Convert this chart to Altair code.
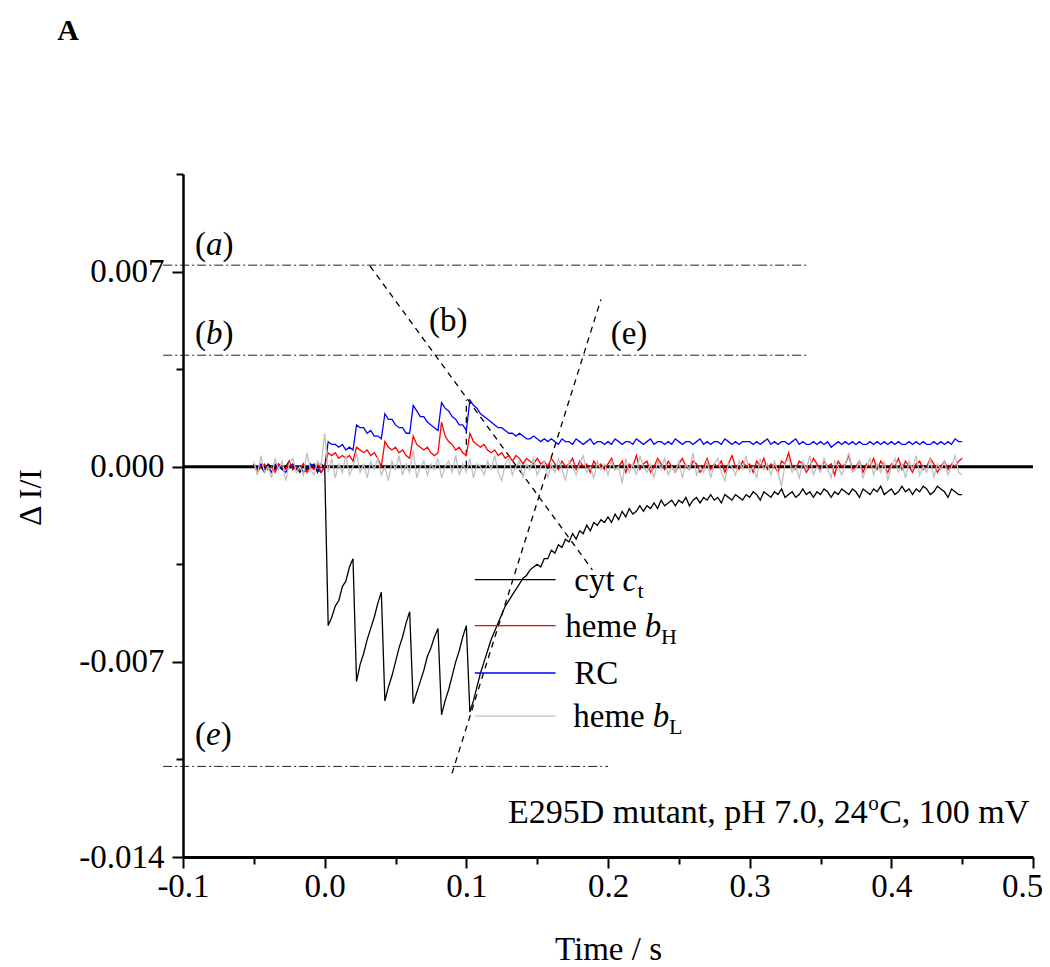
import altair as alt
import numpy as np
import pandas as pd

FONT = "Liberation Serif"

# sample times of the recorded traces (s)
time_s = np.round(np.linspace(-0.05, 0.45, 201), 4)

# traces, in units of 1e-4 (Delta I/I)
cyt_ct = [
    1, -1, 0, -2, 1, 0, -1, 1, -1, 0, 2, -1, 0, -2, 1, -1, 0, 1, -2, 1,
    0,
    -57, -54, -50, -48, -43, -41, -36, -33,
    -77, -71, -67, -62, -58, -54, -49, -45,
    -84, -79, -75, -70, -65, -61, -56, -52,
    -85, -81, -77, -73, -68, -65, -61, -58,
    -89, -84, -80, -75, -70, -66, -61, -57,
    -88, -84, -79, -74, -70, -66, -62, -59, -56, -53, -50, -48, -46, -44, -42, -40, -39, -37, -36,
    -35, -36, -33, -33, -30, -31, -28, -29, -26, -27, -24, -26, -23, -24, -21, -23, -20, -21, -19, -20,
    -18, -20, -17, -19, -16, -18, -15, -17, -16, -14, -16, -14, -15, -13, -15, -12, -14, -13, -12, -14,
    -12, -13, -11, -14, -12, -11, -13, -11, -12, -10, -12, -11, -13, -10, -11, -12, -10, -11, -12, -10,
    -11, -9, -10, -12, -9, -10, -11, -9, -10, -8, -11, -10, -9, -11, -10, -8, -10, -9, -11, -9,
    -10, -8, -9, -11, -9, -10, -8, -9, -10, -8, -9, -11, -8, -9, -10, -8, -9, -7, -10, -9,
    -8, -10, -9, -7, -9, -8, -10, -8, -9, -7, -8, -10, -9, -7, -8, -9, -11, -8, -9, -10, -10,
]

rc = [
    0, -1, 1, -1, 0, -2, 1, 0, -1, -2, 0, 1, -1, 0, -2, -1, 1, 0, -1, -2,
    0,
    9, 8, 8, 7, 8, 6, 7, 6,
    15, 14, 14, 12, 13, 11, 11, 10,
    19, 17, 17, 15, 14, 14, 12, 12,
    22, 20, 18, 18, 16, 15, 14, 13,
    23, 21, 20, 18, 17, 15, 15, 13,
    24, 22, 21, 19, 18, 17, 16, 15, 14, 14, 13, 12, 12, 11, 12, 11, 10, 10, 11,
    10, 9, 10, 9, 10, 9, 8, 10, 9, 9, 8, 10, 9, 8, 9, 10, 8, 9, 9, 8,
    9, 8, 10, 9, 8, 9, 9, 8, 10, 9, 8, 9, 10, 8, 9, 9, 8, 9, 8, 10,
    9, 8, 9, 9, 8, 9, 10, 8, 9, 8, 9, 9, 8, 10, 9, 8, 9, 8, 9, 9,
    9, 8, 9, 8, 9, 10, 8, 9, 8, 9, 9, 8, 9, 10, 8, 9, 8, 8, 9, 8,
    9, 8, 9, 7, 8, 9, 8, 9, 8, 9, 8, 9, 8, 8, 9, 8, 9, 8, 9, 8,
    9, 8, 9, 8, 8, 9, 8, 9, 8, 9, 8, 8, 9, 8, 9, 8, 9, 8, 10, 9, 9,
]

heme_bH = [
    1, -2, 0, 1, -1, 0, -2, 1, 0, -1, 2, -1, 0, -1, 1, -2, 0, -1, 1, -2,
    0,
    5, 4, 5, 3, 4, 3, 4, 2,
    7, 6, 5, 6, 4, 5, 3, 0,
    9, 7, 6, 7, 5, 6, 4, 3,
    11, 8, 7, 6, 7, 5, 4, 5,
    16, 11, 9, 8, 6, 7, 5, 4,
    12, 9, 8, 7, 8, 6, 5, 6, 4, 5, 3, 4, 2, 4, 3, 1, 3, 2, 1,
    3, 1, 2, 0, 3, 1, -1, 2, 0, 1, 3, -1, 2, 0, 1, -2, 2, 0, 1, -1,
    1, 3, -1, 0, 2, -2, 1, 0, 4, -1, 1, 2, -2, 0, 3, 1, -1, 2, 0, -2,
    1, 3, 0, -1, 2, 1, -2, 0, 3, -1, 1, 0, 2, -2, 1, 4, 0, -1, 2, 0,
    1, -2, 2, 0, 3, -1, 1, 0, -2, 2, 1, 5, 0, -1, 2, 1, -2, 0, 3, 1,
    -1, 2, 0, 1, -3, 2, 0, 1, 4, -1, 0, 2, -2, 1, 0, 3, -1, 2, 0, -2,
    1, 0, 3, -1, 2, 0, -2, 1, 2, -1, 0, 3, 1, -2, 0, 2, -1, 1, 0, 2, 3,
]

heme_bL = [
    2, -3, 4, -2, 0, -4, 3, -1, 2, -5, 1, 3, -2, 0, -3, 5, -1, -3, 2, 0,
    12, -2, 3, -4, 1, -2, 4, -3, 0, 5, -2, 1, -4, 2, -1, 3, -3, 0, -5, 2,
    -1, 4, -3, 1, -2, 6, -4, 0, 2, -3, 1, -1, 3, -4, 0, 2, -2, 4, -3, 1,
    -2, 3, -4, 1, 0, -3, 2, -1, 4, -2, -5, 1, 3, -3, 0, 2, -4, 1, -1, 3,
    -3, 0, 2, -4, 1, -2, 3, -1, -5, 2, 0, -3, 1, 4, -2, 0, -4, 2, -1, 1,
    -3, 2, -1, 0, -6, 3, -2, 1, -3, 4, 0, -2, 1, -4, 2, -1, 3, -3, 0, -2,
    2, -4, 1, -1, 5, -3, 0, -2, 2, -4, 1, 3, -2, -5, 1, 0, -3, 2, -1, 4,
    -2, 0, -4, 3, -1, 1, -3, 2, -2, -7, 1, 3, -2, 0, -4, 2, -1, 4, -3, 0,
    -2, 3, -1, -4, 2, 0, -3, 1, 5, -2, -1, 2, -4, 0, 3, -3, 1, -2, 2, -5,
    0, 3, -2, 1, -4, 2, -1, 4, -3, 0, -2, 3, -4, 1, -1, 2, -3, 0, 4, -2, -3,
]

# axis ticks
x_ticks = [-0.1, -0.05, 0.0, 0.05, 0.1, 0.15, 0.2, 0.25, 0.3, 0.35, 0.4, 0.45, 0.5]
y_ticks = [-0.014, -0.0105, -0.007, -0.0035, 0.0, 0.0035, 0.007, 0.0105]

# horizontal dash-dot guides (a), (b), (e)
guide_y = [0.00723, 0.0040, -0.01075]
guide_x1 = [-0.114, -0.114, -0.114]
guide_x2 = [0.340, 0.340, 0.200]

# dashed guides
dash_x1 = [0.032, 0.0899, 0.1]
dash_y1 = [0.0072, -0.0110, 0.0]
dash_x2 = [0.189, 0.195, 0.1]
dash_y2 = [-0.0037, 0.0060, 0.0024]

# legend
legend_series = ["cyt", "bH", "RC", "bL"]
legend_colors = ["#000000", "#ff0000", "#0000ff", "#c0c0c0"]
legend_y = [-0.00405, -0.0057, -0.0074, -0.00895]
legend_x1 = 0.106
legend_x2 = 0.163
legend_text = ["cyt", "heme", "RC", "heme"]
legend_text_t = [0.1762, 0.1699, 0.1762, 0.1755]
legend_ital = ["c", "b", "b"]
legend_ital_t = [0.2103, 0.2259, 0.2315]
legend_ital_y = [legend_y[0], legend_y[1], legend_y[3]]
legend_sub = ["t", "H", "L"]
legend_sub_t = [0.2208, 0.2374, 0.2430]

# guide labels (a), (b), (e): upright brackets, italic letter
paren_open_t = -0.0915
paren_letters = ["a", "b", "e"]
paren_letter_t = -0.0838
paren_close_t = [-0.0721, -0.0721, -0.0734]
paren_y = [0.0076, 0.0044, -0.0100]

up_labels = ["(b)", "(e)"]
up_t = [0.0873, 0.2148]
up_y = [0.00487, 0.0044]

cond_parts = ["E295D mutant, pH 7.0, 24", "o", "C, 100 mV"]
cond_t = [0.1294, 0.3837, 0.3914]
cond_y = -0.01278

panel_label = "A"
panel_t = -0.1812
panel_y = 0.01532

# ---------- scales & axes ----------
x_scale = alt.Scale(domain=[-0.1, 0.5], nice=False, zero=False)
y_scale = alt.Scale(domain=[-0.014, 0.0105], nice=False, zero=False)

X_MAJOR = "abs(datum.value*10 - round(datum.value*10)) < 0.001"
Y_MAJOR = "abs(datum.value/0.007 - round(datum.value/0.007)) < 0.001"

x_axis = alt.Axis(
    values=x_ticks,
    labelExpr=f"({X_MAJOR}) ? replace(format(datum.value, '.1f'), '\u2212', '-') : ''",
    tickSize={"condition": {"test": X_MAJOR, "value": 11}, "value": 7},
    labelOffset={"condition": {"test": "datum.value > 0.49", "value": -11}, "value": 0},
    tickWidth=2, tickColor="black", domainColor="black", domainWidth=3,
    labelFont=FONT, labelFontSize=33, labelColor="black", labelPadding=2,
    labelFlush=False, labelOverlap=False, grid=False,
    title="Time / s", titleFont=FONT, titleFontSize=33, titleFontWeight="normal",
    titleColor="black", titleY=92, titleBaseline="middle",
)
y_axis = alt.Axis(
    values=y_ticks,
    labelExpr=f"({Y_MAJOR}) ? replace(format(datum.value, '.3f'), '\u2212', '-') : ''",
    tickSize={"condition": {"test": Y_MAJOR, "value": 11}, "value": 7},
    tickWidth=2, tickColor="black", domainColor="black", domainWidth=2.5,
    labelFont=FONT, labelFontSize=33, labelColor="black", labelPadding=8,
    labelFlush=False, labelOverlap=False, grid=False,
    title="\u0394 I/I", titleFont=FONT, titleFontSize=32, titleFontWeight="normal",
    titleColor="black", titleAngle=270, titleX=-153, titleY=323,
    titleAlign="center", titleBaseline="middle",
)


def X(field):
    return alt.X(f"{field}:Q", scale=x_scale, axis=x_axis)


def Y(field):
    return alt.Y(f"{field}:Q", scale=y_scale, axis=y_axis)


def trace_df(vals):
    return pd.DataFrame({"t": time_s, "v": np.array(vals, dtype=float) * 1e-4})


def trace_layer(vals, color):
    return alt.Chart(trace_df(vals)).mark_line(color=color, strokeWidth=1.3).encode(
        x=X("t"), y=Y("v")
    )


zero_df = pd.DataFrame({"x1": [-0.1], "x2": [0.5], "y": [0.0]})
zero_line = alt.Chart(zero_df).mark_rule(color="black", strokeWidth=3).encode(
    x=X("x1"), x2="x2:Q", y=Y("y")
)

guide_df = pd.DataFrame({"x1": guide_x1, "x2": guide_x2, "y": guide_y})
guides = alt.Chart(guide_df).mark_rule(
    color="#222222", strokeWidth=1, strokeDash=[9, 3, 2, 3]
).encode(x=X("x1"), x2="x2:Q", y=Y("y"))

dash_df = pd.DataFrame({"x1": dash_x1, "y1": dash_y1, "x2": dash_x2, "y2": dash_y2})
dashes = alt.Chart(dash_df).mark_rule(
    color="black", strokeWidth=1.3, strokeDash=[6, 5]
).encode(x=X("x1"), y=Y("y1"), x2="x2:Q", y2="y2:Q")

leg_df = pd.DataFrame({
    "series": legend_series,
    "x1": [legend_x1] * 4,
    "x2": [legend_x2] * 4,
    "y": legend_y,
})
legend_lines = alt.Chart(leg_df).mark_rule(strokeWidth=1.3).encode(
    x=X("x1"), x2="x2:Q", y=Y("y"),
    color=alt.Color("series:N", scale=alt.Scale(domain=legend_series, range=legend_colors), legend=None),
)


def text_layer(labels, ts, ys, **kw):
    df = pd.DataFrame({"label": labels, "t": ts, "v": ys})
    params = dict(font=FONT, color="black", align="left", baseline="alphabetic", fontSize=33)
    params.update(kw)
    return alt.Chart(df).mark_text(**params).encode(x=X("t"), y=Y("v"), text="label:N")


leg_main = text_layer(legend_text, legend_text_t, legend_y, dy=11)
leg_ital = text_layer(legend_ital, legend_ital_t, legend_ital_y, dy=11, fontStyle="italic")
leg_sub = text_layer(legend_sub, legend_sub_t, legend_ital_y, dy=18, fontSize=22)

par_open = text_layer(["("] * 3, [paren_open_t] * 3, paren_y)
par_letter = text_layer(paren_letters, [paren_letter_t] * 3, paren_y, fontStyle="italic")
par_close = text_layer([")"] * 3, paren_close_t, paren_y)
up_txt = text_layer(up_labels, up_t, up_y, align="center")

cond_main = text_layer([cond_parts[0], cond_parts[2]], [cond_t[0], cond_t[2]], [cond_y, cond_y], fontSize=34)
cond_sup = text_layer([cond_parts[1]], [cond_t[1]], [cond_y], fontSize=21, dy=-13)

panel = text_layer([panel_label], [panel_t], [panel_y], align="center", fontSize=30, fontWeight="bold")

chart = alt.layer(
    zero_line,
    guides,
    dashes,
    trace_layer(cyt_ct, "#000000"),
    trace_layer(rc, "#0000ff"),
    trace_layer(heme_bH, "#ff0000"),
    trace_layer(heme_bL, "#c0c0c0"),
    legend_lines,
    leg_main, leg_ital, leg_sub,
    par_open, par_letter, par_close, up_txt,
    cond_main, cond_sup,
    panel,
).properties(
    width=850,
    height=683,
    padding={"left": 175, "top": 166, "right": 9, "bottom": 110},
    autosize=alt.AutoSizeParams(type="none"),
).configure_view(strokeWidth=0)

chart.save("out.html", embed_options={"renderer": "svg", "actions": False})
